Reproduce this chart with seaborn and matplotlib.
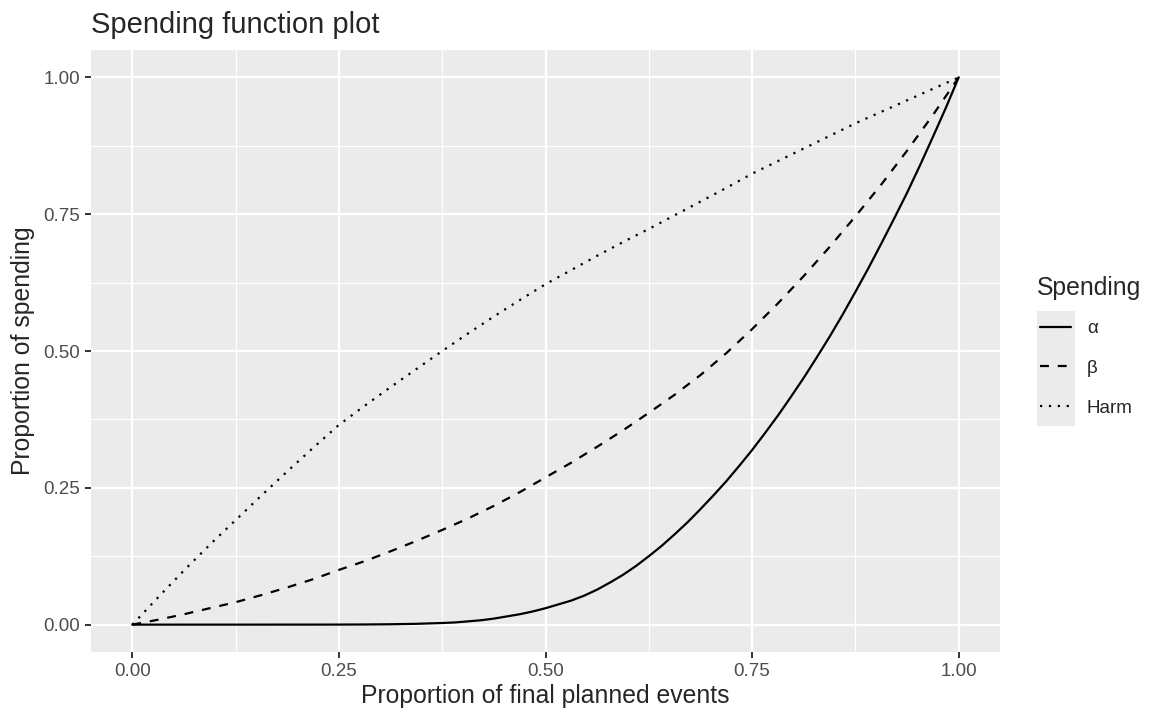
import pandas as pd
import seaborn as sns
import matplotlib.pyplot as plt
from matplotlib.lines import Line2D
from matplotlib.patches import Rectangle
from matplotlib.ticker import FixedLocator, MultipleLocator

# proportion of final planned events (1/32 steps)
t = [0, 0.03125, 0.0625, 0.09375, 0.125, 0.15625, 0.1875, 0.21875, 0.25,
     0.28125, 0.3125, 0.34375, 0.375, 0.40625, 0.4375, 0.46875, 0.5,
     0.53125, 0.5625, 0.59375, 0.625, 0.65625, 0.6875, 0.71875, 0.75,
     0.78125, 0.8125, 0.84375, 0.875, 0.90625, 0.9375, 0.96875, 1.0]

alpha_t = [0, 0.125, 0.25, 0.28125, 0.3125, 0.34375, 0.375,
           0.390625, 0.40625, 0.421875, 0.4375, 0.453125, 0.46875, 0.484375,
           0.5, 0.515625, 0.53125, 0.546875, 0.5625, 0.578125, 0.59375,
           0.609375, 0.625, 0.640625, 0.65625, 0.671875, 0.6875, 0.703125,
           0.71875, 0.734375, 0.75, 0.765625, 0.78125, 0.796875, 0.8125,
           0.828125, 0.84375, 0.859375, 0.875, 0.890625, 0.90625, 0.921875,
           0.9375, 0.953125, 0.96875, 0.984375, 1.0]

# proportion of spending
alpha_spend = [0, 0, 0.0001, 0.0003, 0.0007, 0.0015, 0.003,
               0.004, 0.006, 0.008, 0.011, 0.015, 0.019, 0.024,
               0.03, 0.037, 0.044, 0.053, 0.064, 0.077, 0.091,
               0.107, 0.125, 0.144, 0.165, 0.187, 0.211, 0.236,
               0.262, 0.29, 0.319, 0.35, 0.382, 0.416, 0.451,
               0.488, 0.526, 0.566, 0.608, 0.651, 0.696, 0.742,
               0.789, 0.839, 0.891, 0.944, 1.0]
beta_spend = [0, 0.009, 0.019, 0.03, 0.041, 0.054, 0.068, 0.083, 0.1,
              0.116, 0.134, 0.153, 0.173, 0.194, 0.217, 0.242, 0.269,
              0.296, 0.325, 0.355, 0.387, 0.42, 0.456, 0.496, 0.54,
              0.587, 0.637, 0.69, 0.746, 0.804, 0.866, 0.931, 1.0]
harm_spend = [0, 0.05, 0.099, 0.146, 0.191, 0.236, 0.28, 0.323, 0.365,
              0.4, 0.434, 0.467, 0.5, 0.532, 0.563, 0.593, 0.622,
              0.648, 0.674, 0.699, 0.723, 0.748, 0.773, 0.798, 0.824,
              0.847, 0.87, 0.893, 0.916, 0.937, 0.958, 0.979, 1.0]

groups = ["α", "β", "Harm"]
ticks = [0, 0.25, 0.5, 0.75, 1.0]
tick_labels = ["0.00", "0.25", "0.50", "0.75", "1.00"]

df = pd.concat([
    pd.DataFrame({"t": alpha_t, "spend": alpha_spend, "Spending": "α"}),
    pd.DataFrame({"t": t, "spend": beta_spend, "Spending": "β"}),
    pd.DataFrame({"t": t, "spend": harm_spend, "Spending": "Harm"}),
])

sns.set_theme(style="darkgrid")
plt.rcParams["font.family"] = ["Liberation Sans", "DejaVu Sans"]
plt.rcParams["axes.facecolor"] = "#EBEBEB"

dash_map = {"α": "", "β": (4, 4), "Harm": (1, 3)}
lw = 1.6

fig = plt.figure(figsize=(11.66, 7.21), dpi=100)
ax = fig.add_axes([91 / 1166, 1 - 652 / 721, 909 / 1166, 602 / 721])

sns.lineplot(data=df, x="t", y="spend", style="Spending", style_order=groups,
             dashes=dash_map, color="black", linewidth=lw, estimator=None,
             sort=False, legend=False, ax=ax)

ax.set_xlim(-0.05, 1.05)
ax.set_ylim(-0.05, 1.05)
for axis in (ax.xaxis, ax.yaxis):
    axis.set_major_locator(FixedLocator(ticks))
    axis.set_minor_locator(MultipleLocator(0.125))
ax.set_xticklabels(tick_labels)
ax.set_yticklabels(tick_labels)
ax.grid(which="major", color="white", linewidth=1.6)
ax.grid(which="minor", color="white", linewidth=0.8)
ax.tick_params(which="major", length=4.2, width=1.4, color="#333333",
               labelsize=13.5, labelcolor="#4D4D4D", pad=3.4,
               bottom=True, left=True)
ax.tick_params(which="minor", length=0)
for s in ax.spines.values():
    s.set_visible(False)

ax.set_title("Spending function plot", loc="left", fontsize=21, pad=12)
ax.set_xlabel("Proportion of final planned events", fontsize=17.8, labelpad=3)
ax.set_ylabel("Proportion of spending", fontsize=17.8, labelpad=6)

# legend with grey key background, ggplot style
fig.patches.append(Rectangle((1037 / 1166, 1 - 426 / 721), 38 / 1166, 115 / 721,
                             transform=fig.transFigure, facecolor="#EBEBEB",
                             edgecolor="none", zorder=1))
fig.text(1037 / 1166, 1 - 288 / 721, "Spending", fontsize=17.8,
         ha="left", va="center")
handles = [Line2D([], [], color="black", linewidth=lw,
                  linestyle="-" if dash_map[g] == "" else (0, dash_map[g]))
           for g in groups]
fig.legend(handles, groups, loc="upper left",
           bbox_to_anchor=(1040 / 1166, 1 - 320 / 721), frameon=False,
           fontsize=13.5, handlelength=1.65, handletextpad=0.85,
           labelspacing=1.21, borderpad=0, borderaxespad=0)

fig.savefig("out.png", dpi=100)
